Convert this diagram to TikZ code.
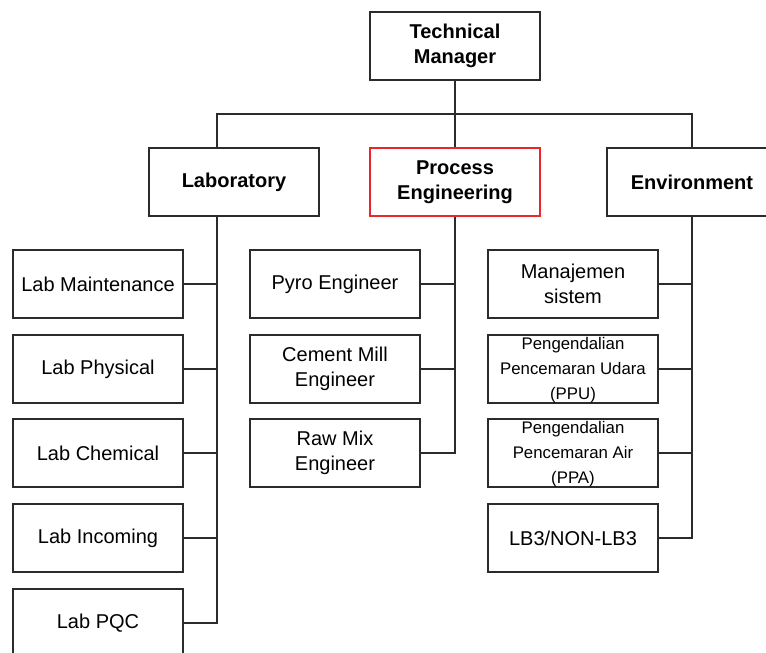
\documentclass[tikz,border=0pt]{standalone}
\usepackage{fontspec}
\setmainfont{Liberation Sans}
\definecolor{linec}{HTML}{2B2B2B}
\definecolor{redc}{HTML}{E8262B}
\begin{document}
\begin{tikzpicture}[x=1pt,y=-1pt,
  box/.style={draw=linec,line width=2pt,rectangle,minimum width=170pt,minimum height=68pt,inner sep=0pt,align=center,fill=white},
  big/.style={font=\fontsize{20}{25}\selectfont},
  bold/.style={font=\fontsize{20}{25}\selectfont\bfseries},
  small/.style={font=\fontsize{16.8}{25}\selectfont},
  conn/.style={draw=linec,line width=2pt}]
\clip (0,0) rectangle (766,653);
\useasboundingbox (0,0) rectangle (766,653);
\fill[white] (0,0) rectangle (766,653);
% level 0
\node[box,bold] (tm) at (455,46) {Technical\\Manager};
% level 1
\node[box,bold] (lab) at (234,182) {Laboratory};
\node[box,bold,draw=redc] (proc) at (455,182) {Process\\Engineering};
\node[box,bold] (env) at (692,182) {Environment};
% lab children
\node[box,big] (lm) at (98,284) {Lab Maintenance};
\node[box,big] (lp) at (98,369) {Lab Physical};
\node[box,big] (lc) at (98,453) {Lab Chemical};
\node[box,big] (li) at (98,538) {Lab Incoming};
\node[box,big] (lq) at (98,623) {Lab PQC};
% process children
\node[box,big] (pyro) at (335,284) {Pyro Engineer};
\node[box,big] (cm) at (335,369) {Cement Mill\\Engineer};
\node[box,big] (rm) at (335,453) {Raw Mix\\Engineer};
% environment children
\node[box,big] (ms) at (573,284) {Manajemen\\sistem};
\node[box] (ppu) at (573,369) {};
\node[small,align=center] (ppuT) at (573,370) {Pengendalian\\Pencemaran Udara\\(PPU)};
\node[box] (ppa) at (573,453) {};
\node[small,align=center] (ppaT) at (573,454.5) {Pengendalian\\Pencemaran Air\\(PPA)};
\node[box,big] (lb3) at (573,538) {LB3/NON-LB3};
% bus coordinates
\coordinate (lx) at (217,0);
\coordinate (bus) at (0,114);
% connectors
\draw[conn] (tm.south) -- (proc.north);
\draw[conn] (lab.north -| lx) |- (bus -| env.north) -- (env.north);
\draw[conn] (lab.south -| lx) |- (lq.east);
\draw[conn] (lm.east) -- (lm.east -| lx);
\draw[conn] (lp.east) -- (lp.east -| lx);
\draw[conn] (lc.east) -- (lc.east -| lx);
\draw[conn] (li.east) -- (li.east -| lx);
\draw[conn] (proc.south) |- (rm.east);
\draw[conn] (pyro.east) -- (pyro.east -| proc.south);
\draw[conn] (cm.east) -- (cm.east -| proc.south);
\draw[conn] (env.south) |- (lb3.east);
\draw[conn] (ms.east) -- (ms.east -| env.south);
\draw[conn] (ppu.east) -- (ppu.east -| env.south);
\draw[conn] (ppa.east) -- (ppa.east -| env.south);
\end{tikzpicture}
\end{document}
